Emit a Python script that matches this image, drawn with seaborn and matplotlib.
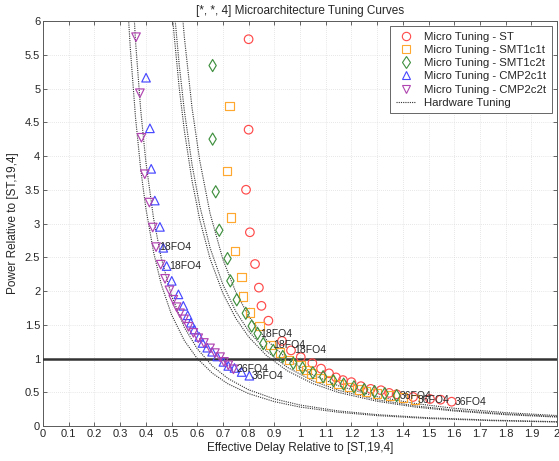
import numpy as np
import pandas as pd
import seaborn as sns
import matplotlib
matplotlib.use("Agg")
from matplotlib import pyplot as plt
from matplotlib.lines import Line2D
from matplotlib.ticker import FuncFormatter

# micro tuning points (delay, power)
st_x = [0.80, 0.80, 0.79, 0.805, 0.825, 0.84, 0.85, 0.877, 0.93, 0.965, 1.003, 1.048, 1.082,
        1.113, 1.140, 1.167, 1.20, 1.237, 1.275, 1.315, 1.347, 1.376, 1.44, 1.506, 1.547, 1.59]
st_y = [5.73, 4.39, 3.50, 2.87, 2.40, 2.05, 1.78, 1.56, 1.26, 1.12, 1.02, 0.93, 0.85,
        0.78, 0.72, 0.68, 0.65, 0.59, 0.55, 0.53, 0.49, 0.47, 0.43, 0.40, 0.39, 0.36]

smt1_x = [0.725, 0.716, 0.732, 0.747, 0.773, 0.778, 0.805, 0.842, 0.886, 0.922, 0.958, 1.003,
          1.026, 1.045, 1.078, 1.117, 1.15, 1.19, 1.23, 1.257, 1.30, 1.35, 1.40, 1.447]
smt1_y = [4.74, 3.78, 3.09, 2.59, 2.21, 1.92, 1.68, 1.48, 1.20, 1.09, 0.98, 0.90,
          0.83, 0.78, 0.71, 0.68, 0.62, 0.58, 0.54, 0.51, 0.48, 0.45, 0.42, 0.39]

smt2_x = [0.66, 0.66, 0.672, 0.686, 0.718, 0.729, 0.754, 0.789, 0.812, 0.835, 0.857, 0.896,
          0.933, 0.974, 1.01, 1.05, 1.09, 1.13, 1.17, 1.21, 1.25, 1.29, 1.33, 1.376]
smt2_y = [5.34, 4.25, 3.47, 2.90, 2.48, 2.15, 1.87, 1.67, 1.48, 1.37, 1.22, 1.12,
          1.03, 0.93, 0.86, 0.79, 0.73, 0.67, 0.62, 0.58, 0.54, 0.51, 0.48, 0.45]

cmp1_x = [0.401, 0.416, 0.421, 0.435, 0.455, 0.468, 0.481, 0.501, 0.527, 0.546, 0.563, 0.575,
          0.589, 0.608, 0.621, 0.639, 0.658, 0.678, 0.702, 0.721, 0.745, 0.773, 0.803]
cmp1_y = [5.16, 4.41, 3.81, 3.34, 2.95, 2.64, 2.37, 2.15, 1.95, 1.78, 1.64, 1.53,
          1.43, 1.32, 1.23, 1.16, 1.10, 1.03, 0.95, 0.89, 0.86, 0.80, 0.745]

cmp2_x = [0.362, 0.377, 0.383, 0.396, 0.414, 0.427, 0.440, 0.458, 0.475, 0.492, 0.507, 0.520,
          0.533, 0.549, 0.566, 0.585, 0.604, 0.626, 0.650, 0.669, 0.689, 0.704, 0.721, 0.741]
cmp2_y = [5.76, 4.93, 4.27, 3.73, 3.31, 2.94, 2.65, 2.39, 2.18, 2.01, 1.87, 1.76,
          1.67, 1.58, 1.47, 1.38, 1.30, 1.23, 1.15, 1.08, 1.02, 0.95, 0.90, 0.84]

# hardware tuning curves
hw_left_x = [0.33, 0.34, 0.36, 0.38, 0.40, 0.43, 0.46, 0.50, 0.55, 0.60, 0.66, 0.72, 0.80,
             0.90, 1.00, 1.15, 1.30, 1.50, 1.75, 2.00]
hw_l1_y = [6.21, 5.58, 4.57, 3.81, 3.23, 2.58, 2.10, 1.65, 1.265, 1.00, 0.779, 0.624, 0.480,
           0.361, 0.281, 0.203, 0.154, 0.111, 0.079, 0.059]
hw_l2_y = [7.96, 7.07, 5.70, 4.69, 3.92, 3.08, 2.49, 1.93, 1.46, 1.145, 0.884, 0.703, 0.537,
           0.401, 0.311, 0.223, 0.168, 0.122, 0.086, 0.064]
hw_mid_x = [0.50, 0.51, 0.53, 0.55, 0.58, 0.61, 0.65, 0.70, 0.75, 0.80, 0.87, 0.95, 1.05,
            1.15, 1.30, 1.45, 1.60, 1.80, 2.00]
hw_m1_y = [6.26, 5.80, 5.01, 4.375, 3.63, 3.055, 2.48, 1.966, 1.596, 1.321, 1.042, 0.819, 0.628,
           0.497, 0.366, 0.280, 0.222, 0.168, 0.132]
hw_m2_y = [6.69, 6.19, 5.35, 4.67, 3.87, 3.26, 2.64, 2.094, 1.699, 1.406, 1.108, 0.871, 0.668,
           0.528, 0.389, 0.298, 0.235, 0.179, 0.140]
hw_m3_y = [8.48, 7.80, 6.66, 5.76, 4.71, 3.93, 3.15, 2.468, 1.985, 1.631, 1.275, 0.994, 0.757,
           0.595, 0.435, 0.332, 0.262, 0.198, 0.155]

labels = ["Micro Tuning - ST", "Micro Tuning - SMT1c1t", "Micro Tuning - SMT1c2t",
          "Micro Tuning - CMP2c1t", "Micro Tuning - CMP2c2t"]
series_x = [st_x, smt1_x, smt2_x, cmp1_x, cmp2_x]
series_y = [st_y, smt1_y, smt2_y, cmp1_y, cmp2_y]
colors = ["#ff4a4a", "#ffa830", "#3f8f3f", "#4848ff", "#b044b0"]
markers = ["o", "s", "d", "^", "v"]

# (series index, point index, text)
notes = [(0, 9, "18FO4"), (1, 8, "18FO4"), (2, 9, "18FO4"), (3, 6, "18FO4"), (4, 6, "18FO4"),
         (0, 25, "36FO4"), (1, 23, "36FO4"), (2, 23, "36FO4"), (3, 22, "36FO4"), (4, 23, "26FO4")]

df = pd.concat([pd.DataFrame({"delay": sx, "power": sy, "series": lab})
                for sx, sy, lab in zip(series_x, series_y, labels)], ignore_index=True)

sns.set_theme(style="white")
plt.rcParams["font.family"] = ["Liberation Sans", "DejaVu Sans"]

fig = plt.figure(figsize=(5.59, 4.61), dpi=100)
ax = fig.add_axes([43 / 559, 35 / 461, 514 / 559, 405 / 461])

hw = [(hw_left_x, hw_l1_y), (hw_left_x, hw_l2_y), (hw_mid_x, hw_m1_y), (hw_mid_x, hw_m2_y), (hw_mid_x, hw_m3_y)]
for hx, hy in hw:
    sns.lineplot(x=hx, y=hy, sort=False, estimator=None, color="0.2", lw=0.8,
                 linestyle=(0, (1, 1)), ax=ax, zorder=2)

ax.axhline(1, color="0.2", lw=1.8, zorder=3)

sns.scatterplot(data=df, x="delay", y="power", hue="series", style="series",
                palette=dict(zip(labels, colors)), markers=dict(zip(labels, markers)),
                s=38, linewidth=0.85, legend=False, ax=ax, zorder=4)
for coll in ax.collections:
    fc = coll.get_facecolor()
    if len(fc):
        coll.set_edgecolor(fc)
        coll.set_facecolor("none")

for si, pi, txt in notes:
    ax.annotate(txt, (series_x[si][pi], series_y[si][pi]), xytext=(2, 0),
                textcoords="offset points", fontsize=7.5, va="center", zorder=5)

ax.set_xlim(0, 2)
ax.set_ylim(0, 6)
ax.set_xticks(np.arange(0, 2.01, 0.1))
ax.set_yticks(np.arange(0, 6.01, 0.5))
fmt = FuncFormatter(lambda v, p: f"{round(v, 2):g}")
ax.xaxis.set_major_formatter(fmt)
ax.yaxis.set_major_formatter(fmt)
ax.tick_params(direction="in", length=3, width=0.6, color="0.3", labelsize=8,
               top=True, right=True, bottom=True, left=True, pad=2)
ax.grid(True, color="0.82", lw=0.5, linestyle=(0, (1, 2)))
ax.set_axisbelow(True)
for sp in ax.spines.values():
    sp.set_color("0.35")
    sp.set_linewidth(0.7)

ax.set_title("[*, *, 4] Microarchitecture Tuning Curves", fontsize=8.5, pad=5)
ax.set_xlabel("Effective Delay Relative to [ST,19,4]", fontsize=8.5, labelpad=2)
ax.set_ylabel("Power Relative to [ST,19,4]", fontsize=8.5, labelpad=4)

handles = [Line2D([], [], marker=m, linestyle="none", markerfacecolor="none",
                  markeredgecolor=c, markersize=6, markeredgewidth=0.8)
           for c, m in zip(colors, markers)]
handles.append(Line2D([], [], color="0.2", lw=0.8, linestyle=(0, (1, 1))))
leg = ax.legend(handles, labels + ["Hardware Tuning"], loc="upper right", fontsize=8.2,
                frameon=True, fancybox=False, edgecolor="0.3", framealpha=1,
                borderaxespad=0.45, handlelength=1.8, labelspacing=0.28,
                borderpad=0.5, handletextpad=0.7)
leg.get_frame().set_linewidth(0.6)

fig.savefig("out.png", dpi=100)
